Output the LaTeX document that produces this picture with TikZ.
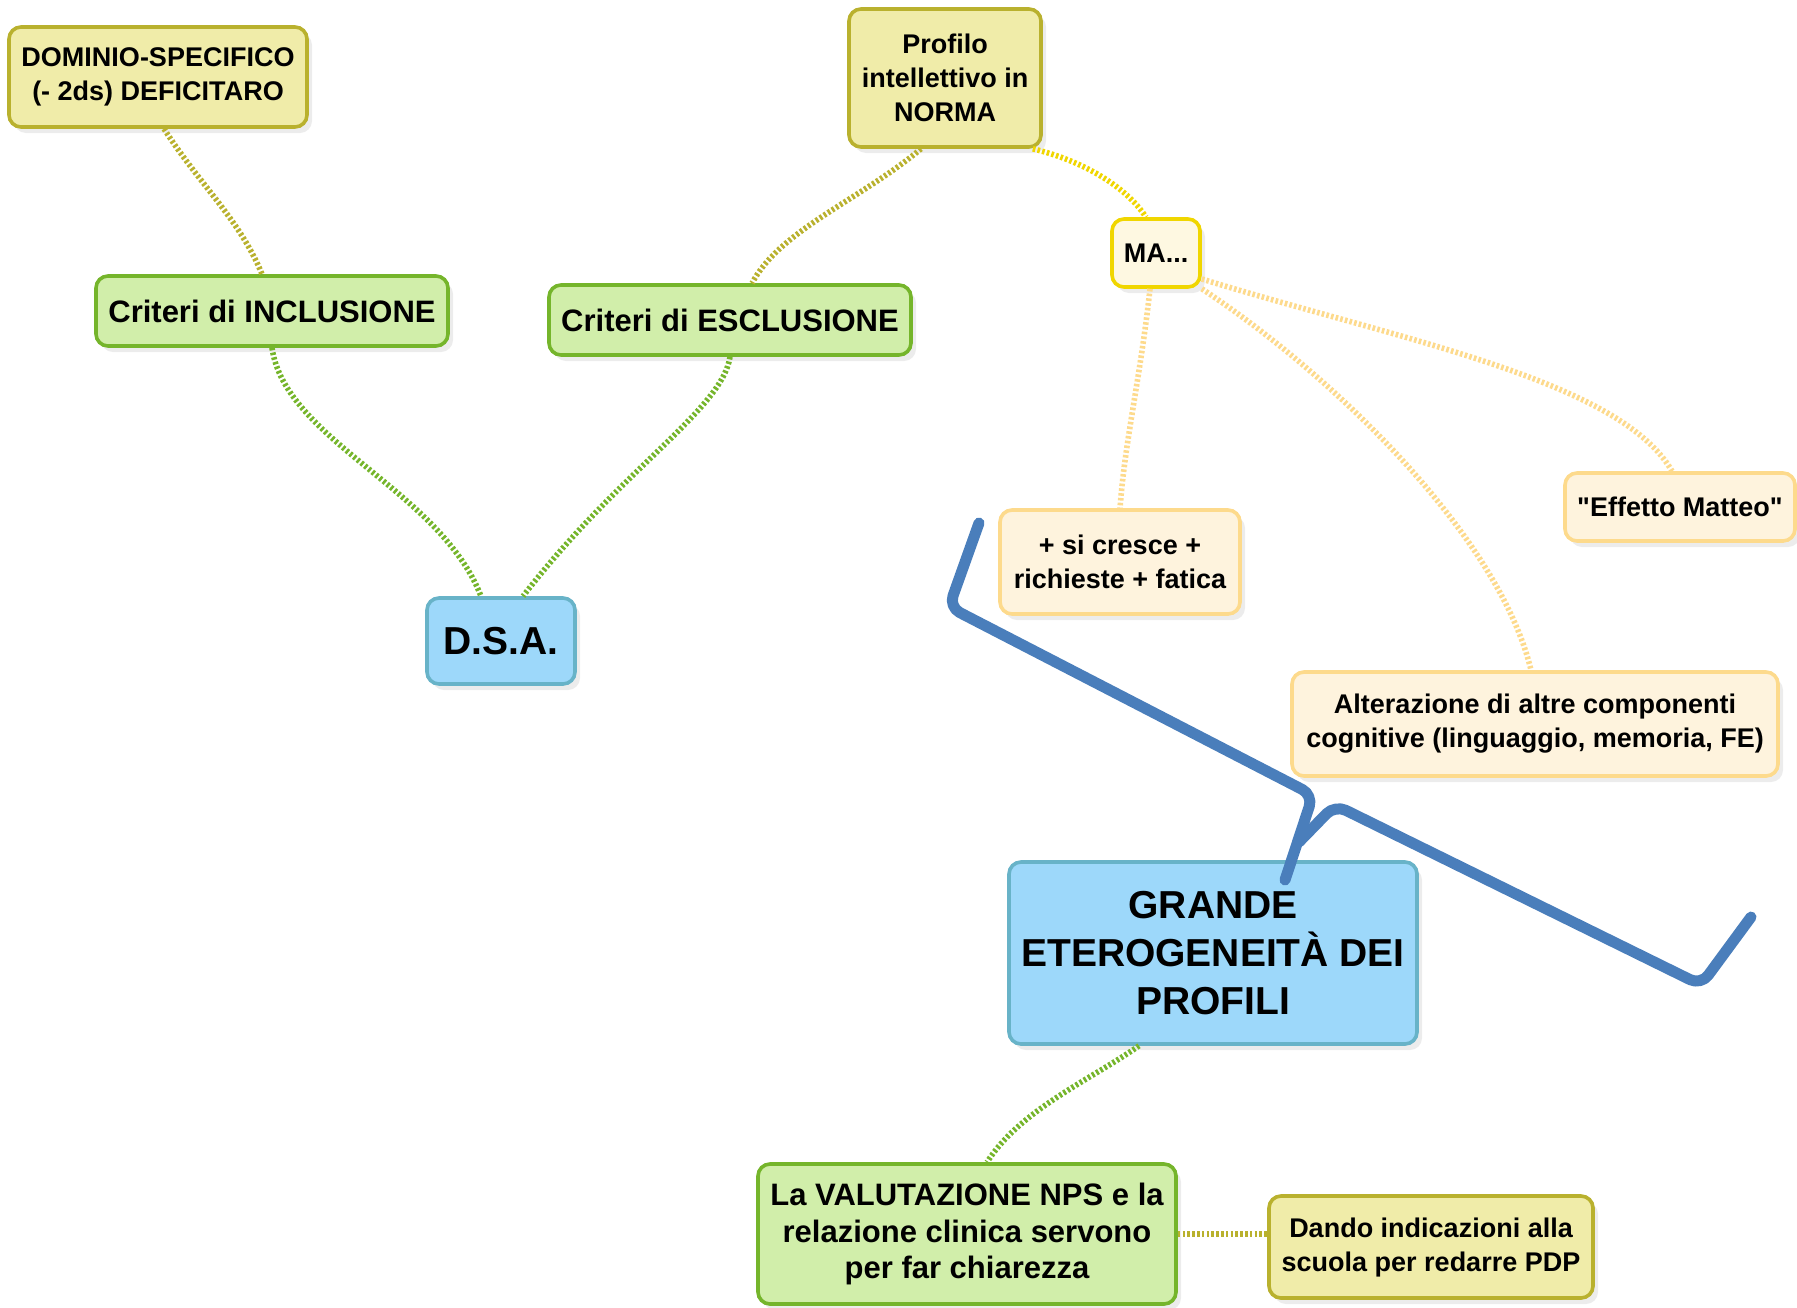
\documentclass[tikz,border=0pt]{standalone}
\usepackage{fontspec}
\newfontfamily\mapfree{Liberation Sans}
\usepackage{tikz}
\usetikzlibrary{shadows}
\usepackage{xcolor}
\definecolor{olvfill}{HTML}{F0ECA9}
\definecolor{olvline}{HTML}{B9B12E}
\definecolor{grnfill}{HTML}{D1EEAA}
\definecolor{grnline}{HTML}{75B52B}
\definecolor{blufill}{HTML}{9DD8FA}
\definecolor{bluline}{HTML}{68B3C8}
\definecolor{mafill}{HTML}{FEF8E1}
\definecolor{maline}{HTML}{F0D600}
\definecolor{crmfill}{HTML}{FEF3DD}
\definecolor{crmline}{HTML}{FDDA8C}
\definecolor{bracecol}{HTML}{4A7EBB}
\newcommand{\smallfnt}{\mapfree\fontsize{13.5}{17}\selectfont\bfseries}
\newcommand{\midfnt}{\mapfree\fontsize{15.5}{18.3}\selectfont\bfseries}
\newcommand{\bigfnt}{\mapfree\fontsize{19.5}{23.8}\selectfont\bfseries}
\tikzset{
  idea/.style   ={draw, rounded corners=6pt, line width=1.8pt, align=center,
                  inner sep=3pt, text=black,
                  drop shadow={shadow xshift=2.5pt, shadow yshift=-3pt,
                               opacity=0.15}},
  olvbox/.style ={idea, fill=olvfill, draw=olvline, font=\smallfnt},
  grnbox/.style ={idea, fill=grnfill, draw=grnline, font=\midfnt},
  blubox/.style ={idea, fill=blufill, draw=bluline, font=\bigfnt},
  mabox/.style  ={idea, fill=mafill, draw=maline, font=\smallfnt},
  crmbox/.style ={idea, fill=crmfill, draw=crmline, font=\smallfnt},
  lnk/.style    ={line width=2.8pt, dash pattern=on 1.3pt off 1.1pt},
  brace/.style  ={draw=bracecol, line width=5.5pt, line cap=round,
                  line join=round, rounded corners=6pt},
}

\begin{document}
\begin{tikzpicture}[x=0.5pt, y=-0.5pt]
  \useasboundingbox (0,0) rectangle (1797,1307);

  \node[olvbox, minimum width=149pt, minimum height=50pt] (dom) at (158,77)
    {DOMINIO-SPECIFICO\\(- 2ds) DEFICITARO};
  \node[grnbox, minimum width=176pt, minimum height=35pt] (incl) at (272,311)
    {Criteri di INCLUSIONE};
  \node[olvbox, minimum width=96pt, minimum height=69pt] (prof) at (945,78)
    {Profilo\\intellettivo in\\NORMA};
  \node[grnbox, minimum width=181pt, minimum height=35pt] (escl) at (730,320)
    {Criteri di ESCLUSIONE};
  \node[mabox, minimum width=44pt, minimum height=34pt] (ma) at (1156,253)
    {MA...};
  \node[blubox, minimum width=74pt, minimum height=43pt] (dsa) at (501,641)
    {D.S.A.};
  \node[crmbox, minimum width=120pt, minimum height=52pt] (cresce) at (1120,562)
    {+ si cresce +\\richieste + fatica};
  \node[crmbox, minimum width=115pt, minimum height=34pt] (eff) at (1680,507)
    {"Effetto Matteo"};
  \node[crmbox, minimum width=243pt, minimum height=52pt] (alt) at (1535,724)
    {Alterazione di altre componenti\\cognitive (linguaggio, memoria, FE)};
  \node[blubox, minimum width=204pt, minimum height=91pt] (grande) at (1213,953)
    {GRANDE\\ETEROGENEITÀ DEI\\PROFILI};
  \node[grnbox, minimum width=209pt, minimum height=70pt] (val) at (967,1234)
    {La VALUTAZIONE NPS e la\\relazione clinica servono\\per far chiarezza};
  \node[olvbox, minimum width=162pt, minimum height=51pt] (dando) at (1431,1247)
    {Dando indicazioni alla\\scuola per redarre PDP};

  \draw[lnk, olvline] ([xshift=3pt]dom.south) .. controls (200,185) and (240,220)
    .. ([xshift=-5pt]incl.north);
  \draw[lnk, grnline] (incl.south) .. controls (285,440) and (440,490)
    .. ([xshift=-10pt]dsa.north);
  \draw[lnk, grnline] (escl.south) .. controls (722,410) and (620,470)
    .. ([xshift=11pt]dsa.north);
  \draw[lnk, olvline] ([xshift=-12pt]prof.south) .. controls (860,200) and (780,230)
    .. ([xshift=11pt]escl.north);
  \draw[lnk, maline] ([xshift=-5pt]prof.south east) .. controls (1080,160) and (1125,185)
    .. ([xshift=-5pt]ma.north);
  \draw[lnk, crmline] ([xshift=-3pt]ma.south) .. controls (1140,380) and (1125,440)
    .. (cresce.north);
  \draw[lnk, crmline] (ma.south east) .. controls (1340,380) and (1500,540)
    .. ([xshift=-2pt]alt.north);
  \draw[lnk, crmline] ([yshift=-13pt]ma.east) .. controls (1400,340) and (1620,380)
    .. ([xshift=-4pt]eff.north);
  \draw[lnk, grnline] ([xshift=-37pt]grande.south) .. controls (1090,1080) and (1020,1110)
    .. ([xshift=10pt]val.north);
  \draw[lnk, olvline] (val.east) -- (val.east -| dando.west);

  \draw[brace] (979,523) -- (949,607) -- (1313,795) -- (1285,880);
  \draw[brace] (1299,842) -- (1335,805) -- (1701,985) -- (1751,917);
\end{tikzpicture}
\end{document}
